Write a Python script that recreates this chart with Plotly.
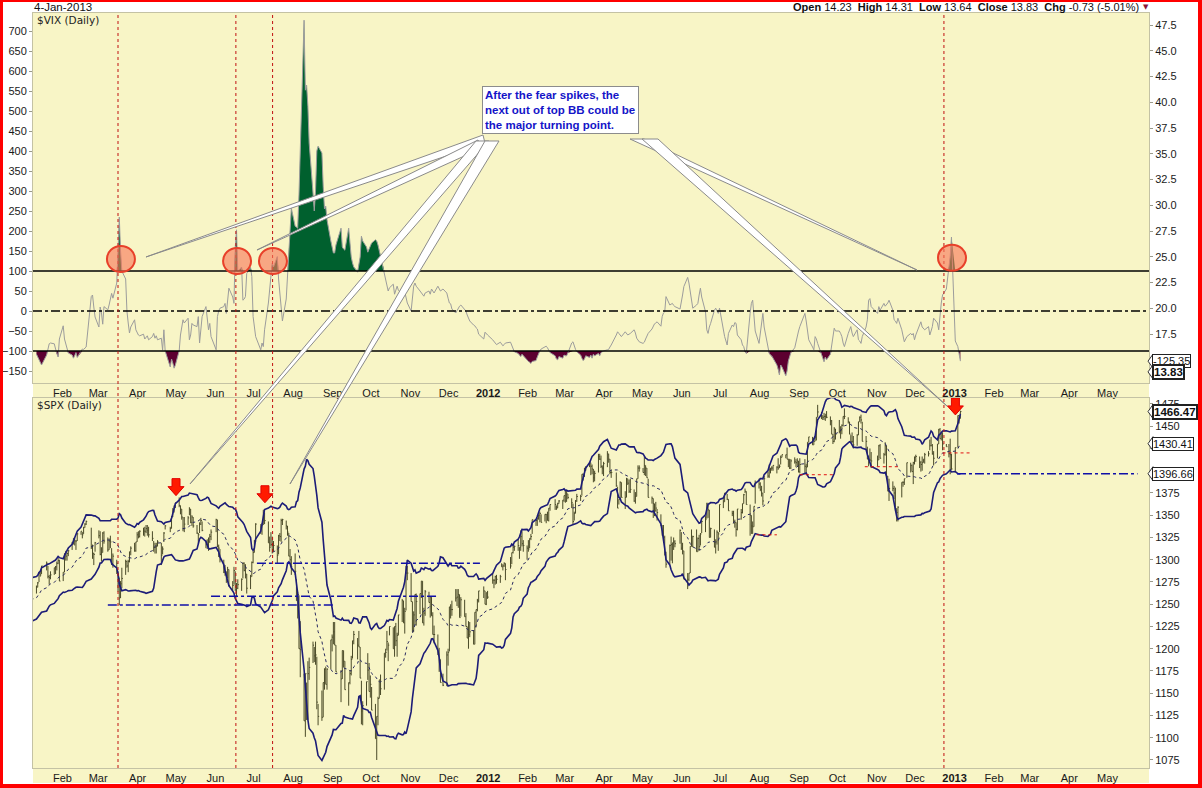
import plotly.graph_objects as go
import pandas as pd

W, H = 1202, 788
def fx(p): return p / W
def fy(p): return 1 - p / H

BG = "#f8f5c6"
market_holidays = ["2010-12-24", "2011-01-17", "2011-02-21", "2011-04-22", "2011-05-30", "2011-07-04",
                   "2011-09-05", "2011-11-24", "2011-12-26", "2012-01-02", "2012-01-16", "2012-02-20",
                   "2012-04-06", "2012-05-28", "2012-07-04", "2012-09-03", "2012-10-29", "2012-10-30",
                   "2012-11-22", "2012-12-25", "2013-01-01"]

# ---- $SPX daily closes (9 Dec 2010 .. 4 Jan 2013; December 2010 only feeds the bands) ----
spx_close = [
    1233, 1240, 1240, 1241, 1236, 1243, 1244, 1247, 1254, 1258, 1257, 1258, 1259, 1260, 1257, 1258,
    1272, 1270, 1276, 1273, 1272, 1269, 1274, 1285, 1283, 1293, 1296, 1281, 1280, 1283, 1291, 1292, 1296, 1299, 1276, 1286,
    1307, 1304, 1307, 1310, 1319, 1324, 1321, 1321, 1329, 1332, 1328, 1336, 1340, 1343, 1315, 1307, 1306, 1319, 1327,
    1306, 1308, 1330, 1321, 1311, 1321, 1320, 1295, 1304, 1296, 1281, 1257, 1273, 1279, 1298, 1293, 1298, 1309, 1313, 1310, 1320, 1328, 1326,
    1332, 1332, 1332, 1335, 1333, 1328, 1324, 1314, 1314, 1315, 1320, 1305, 1312, 1330, 1338, 1335, 1348, 1356, 1360, 1364,
    1361, 1357, 1348, 1335, 1340, 1347, 1357, 1342, 1348, 1338, 1330, 1328, 1340, 1344, 1333, 1317, 1316, 1320, 1326, 1331, 1345,
    1315, 1313, 1300, 1286, 1284, 1280, 1289, 1271, 1271, 1288, 1266, 1268, 1272, 1278, 1296, 1288, 1284, 1268, 1281, 1297, 1308, 1321,
    1340, 1337, 1339, 1353, 1344, 1319, 1314, 1317, 1309, 1316, 1305, 1327, 1326, 1344, 1345, 1338, 1331, 1304, 1300, 1292,
    1287, 1254, 1261, 1200, 1199, 1119, 1172, 1121, 1172, 1179, 1204, 1192, 1193, 1140, 1124, 1123, 1162, 1177, 1160, 1177, 1210, 1213, 1219,
    1204, 1174, 1166, 1198, 1186, 1154, 1162, 1172, 1188, 1209, 1216, 1204, 1202, 1167, 1130, 1136, 1163, 1176, 1152, 1160, 1131,
    1099, 1124, 1144, 1165, 1155, 1195, 1196, 1208, 1204, 1225, 1200, 1225, 1209, 1215, 1238, 1254, 1229, 1242, 1285, 1285, 1253,
    1219, 1238, 1261, 1253, 1262, 1276, 1229, 1240, 1264, 1252, 1258, 1237, 1216, 1216, 1193, 1188, 1162, 1159, 1193, 1196, 1247,
    1244, 1244, 1257, 1258, 1261, 1235, 1255, 1236, 1225, 1212, 1216, 1219, 1205, 1241, 1244, 1254, 1265, 1265, 1250, 1263, 1258,
    1277, 1277, 1281, 1278, 1281, 1292, 1293, 1296, 1289, 1293, 1308, 1314, 1315, 1316, 1314, 1326, 1318, 1316, 1313, 1312,
    1324, 1326, 1345, 1344, 1347, 1350, 1352, 1342, 1351, 1351, 1344, 1358, 1362, 1362, 1358, 1363, 1366, 1367, 1372, 1366,
    1374, 1370, 1364, 1343, 1352, 1366, 1371, 1371, 1396, 1395, 1403, 1404, 1409, 1405, 1402, 1392, 1397, 1416, 1413, 1405, 1403, 1408,
    1419, 1413, 1398, 1398, 1383, 1358, 1368, 1387, 1370, 1370, 1391, 1386, 1377, 1379, 1366, 1371, 1391, 1403, 1403, 1398,
    1406, 1403, 1392, 1370, 1369, 1363, 1355, 1358, 1353, 1338, 1330, 1325, 1305, 1295, 1316, 1317, 1319, 1320, 1318, 1333, 1313, 1310,
    1278, 1278, 1285, 1315, 1315, 1326, 1309, 1324, 1315, 1329, 1343, 1345, 1358, 1356, 1325, 1335, 1314, 1320, 1331, 1329, 1362,
    1365, 1375, 1368, 1355, 1352, 1341, 1342, 1334, 1357, 1353, 1363, 1373, 1377, 1362, 1350, 1338, 1337, 1360, 1386, 1385, 1379,
    1375, 1366, 1391, 1394, 1401, 1403, 1403, 1406, 1404, 1403, 1405, 1415, 1418, 1418, 1413, 1413, 1403, 1411, 1410, 1409, 1411, 1399, 1407,
    1405, 1404, 1432, 1438, 1429, 1433, 1437, 1460, 1466, 1462, 1460, 1461, 1461, 1460, 1456, 1441, 1433, 1447, 1441,
    1444, 1445, 1451, 1461, 1461, 1455, 1441, 1433, 1433, 1429, 1440, 1455, 1460, 1457, 1433, 1433, 1413, 1409, 1412, 1411, 1412,
    1428, 1414, 1418, 1428, 1394, 1377, 1380, 1380, 1375, 1355, 1353, 1359, 1387, 1387, 1391, 1409, 1406, 1399, 1409, 1415, 1416,
    1409, 1407, 1409, 1413, 1418, 1419, 1428, 1428, 1419, 1414, 1430, 1446, 1436, 1443, 1430, 1427, 1419, 1418, 1402, 1426,
    1462, 1459, 1466.47,
]

# daily high above close (points), from 10 Jan 2011
spx_high_ext = [
    2, 1, 1, 4, 0, 2, 12, 3, 4, 0, 1, 2, 3, 24, 0,
    0, 6, 1, 1, 1, 0, 3, 1, 1, 0, 3, 1, 1, 1, 21, 10, 2, 1, 6,
    26, 6, 1, 11, 14, 3, 7, 18, 3, 4, 6, 23, 3, 12, 2, 6, 2, 0, 2, 9, 0, 3, 6,
    1, 4, 5, 4, 6, 9, 8, 7, 5, 4, 2, 14, 3, 1, 1, 2, 1, 2, 1, 0,
    9, 4, 9, 13, 8, 2, 2, 15, 2, 10, 9, 2, 2, 3, 10, 5, 7, 5, 3, 3, 1,
    30, 4, 12, 14, 10, 7, 3, 18, 5, 4, 21, 6, 6, 1, 1, 9, 11, 16, 2, 1, 2, 1,
    1, 3, 2, 3, 9, 24, 12, 14, 17, 5, 11, 1, 4, 2, 1, 6, 7, 26, 12, 12,
    20, 24, 3, 60, 32, 53, 0, 41, 14, 11, 4, 10, 15, 51, 14, 30, 0, 1, 20, 1, 0, 3, 11,
    26, 30, 10, 0, 12, 32, 0, 4, 4, 0, 4, 8, 18, 35, 34, 5, 0, 19, 32, 10, 26,
    39, 0, 2, 0, 16, 0, 4, 12, 3, 0, 24, 0, 20, 3, 0, 2, 25, 4, 8, 8, 32,
    34, 4, 0, 9, 0, 0, 47, 6, 2, 12, 0, 21, 25, 10, 23, 13, 26, 13, 4, 4, 0,
    6, 10, 10, 9, 6, 26, 3, 19, 15, 13, 15, 11, 16, 0, 0, 2, 0, 5, 15, 0, 7,
    7, 1, 1, 5, 2, 4, 2, 1, 7, 10, 0, 2, 1, 7, 0, 7, 14, 6, 3, 10,
    0, 3, 0, 0, 0, 1, 2, 9, 0, 0, 10, 0, 0, 6, 3, 1, 1, 0, 0, 12,
    4, 4, 5, 20, 2, 1, 3, 2, 0, 2, 0, 1, 1, 4, 5, 10, 3, 3, 6, 12, 3, 2,
    3, 6, 15, 3, 15, 24, 0, 1, 17, 7, 1, 5, 13, 12, 13, 5, 0, 3, 3, 5,
    10, 3, 11, 21, 2, 6, 8, 7, 4, 13, 9, 14, 22, 14, 1, 9, 0, 5, 4, 1, 18, 9,
    32, 7, 0, 0, 19, 1, 25, 1, 13, 1, 1, 4, 6, 8, 31, 1, 20, 3, 2, 2, 0,
    3, 0, 6, 13, 3, 14, 3, 8, 0, 4, 0, 1, 3, 15, 12, 12, 6, 0, 3, 6, 8,
    8, 9, 3, 5, 6, 0, 2, 0, 1, 11, 2, 2, 0, 0, 13, 0, 10, 2, 5, 4, 3, 12, 7,
    8, 4, 0, 0, 9, 4, 2, 0, 8, 4, 2, 4, 3, 7, 5, 16, 8, 2, 6,
    13, 5, 1, 0, 9, 5, 14, 7, 10, 10, 1, 0, 1, 6, 22, 6, 14, 8, 13, 10, 5,
    1, 16, 2, 4, 34, 17, 11, 8, 8, 26, 5, 1, 0, 1, 0, 0, 3, 8, 1, 1, 2,
    7, 4, 7, 0, 2, 3, 7, 10, 11, 8, 0, 1, 12, 0, 13, 3, 11, 18, 17, 0,
    0, 3, 1,
]
# daily low below close (points), from 10 Jan 2011
spx_low_ext = [
    7, 5, 10, 2, 9, 8, 2, 8, 5, 8, 8, 8, 4, 0, 10,
    21, 5, 8, 6, 8, 7, 5, 10, 8, 4, 4, 7, 4, 4, 3, 6, 12, 10, 3,
    1, 10, 22, 3, 2, 10, 7, 1, 13, 12, 17, 8, 16, 11, 15, 2, 12, 12, 8, 1, 11, 8, 2,
    7, 5, 6, 5, 6, 3, 3, 5, 7, 8, 5, 11, 6, 10, 4, 4, 13, 8, 7, 6,
    2, 6, 3, 3, 9, 8, 7, 1, 10, 2, 1, 10, 10, 5, 1, 4, 4, 10, 7, 9, 14,
    1, 10, 3, 1, 2, 6, 10, 1, 5, 16, 1, 10, 5, 13, 17, 1, 5, 6, 14, 16, 12, 13,
    20, 8, 11, 14, 4, 0, 5, 2, 2, 7, 9, 21, 5, 24, 6, 4, 4, 0, 5, 9,
    4, 0, 27, 0, 31, 0, 71, 1, 51, 14, 20, 7, 11, 8, 10, 4, 39, 23, 0, 23, 33, 16, 14,
    0, 0, 26, 32, 7, 0, 26, 12, 18, 20, 11, 16, 0, 0, 15, 22, 27, 11, 0, 15, 0,
    0, 49, 30, 21, 7, 41, 6, 10, 18, 10, 0, 34, 6, 24, 23, 24, 0, 25, 42, 8, 0,
    0, 19, 35, 27, 23, 19, 0, 14, 27, 0, 23, 0, 0, 10, 0, 14, 0, 1, 35, 15, 50,
    10, 7, 4, 10, 15, 0, 19, 0, 0, 0, 16, 6, 0, 36, 20, 12, 13, 8, 0, 14, 2,
    4, 9, 9, 5, 7, 0, 5, 4, 12, 3, 13, 7, 5, 6, 13, 16, 3, 7, 13, 3,
    11, 4, 16, 6, 9, 5, 10, 0, 8, 10, 0, 15, 7, 6, 2, 5, 3, 10, 7, 2,
    9, 2, 6, 3, 8, 14, 6, 5, 24, 6, 10, 4, 5, 10, 6, 5, 9, 18, 1, 2, 7, 14,
    15, 4, 2, 6, 1, 0, 6, 20, 0, 13, 21, 2, 2, 4, 1, 8, 20, 12, 4, 0,
    11, 9, 0, 0, 6, 16, 6, 4, 9, 0, 3, 0, 0, 4, 21, 18, 23, 9, 4, 15, 2, 4,
    0, 11, 9, 30, 0, 12, 0, 15, 5, 13, 13, 14, 12, 9, 0, 10, 0, 13, 14, 19, 31,
    7, 10, 1, 0, 3, 0, 6, 8, 24, 8, 11, 10, 2, 0, 23, 9, 8, 23, 23, 5, 2,
    4, 5, 16, 2, 9, 6, 3, 6, 7, 2, 2, 8, 3, 4, 0, 9, 1, 9, 2, 5, 6, 1, 10,
    9, 8, 28, 6, 0, 4, 4, 26, 6, 4, 3, 4, 5, 1, 5, 0, 3, 15, 6,
    2, 9, 10, 11, 3, 2, 0, 2, 2, 4, 12, 15, 5, 4, 0, 10, 0, 4, 1, 8, 7,
    16, 0, 10, 11, 0, 0, 14, 3, 7, 0, 10, 16, 17, 5, 7, 17, 8, 0, 24, 8, 6,
    6, 8, 9, 4, 10, 3, 5, 0, 1, 8, 16, 16, 0, 9, 7, 0, 4, 22, 1, 28,
    36, 6, 8,
]

# ---- $VIX position inside its Bollinger Bands (+100 top band, -100 bottom band), from 10 Jan 2011 ----
vix_bb_pos = [
    -108, -115, -125, -132, -135, -110, -97, -82, -80, -82, -95, -108, -115, -70, -37,
    -70, -80, -95, -105, -110, -118, -112, -104, -116, -102, -95, -96, -94, -90, 36, 40, 10, -15, -40,
    10, -5, -33, 11, 3, 15, 27, 44, 32, 70, 150, 235, 150, 100, 80, 0, -30, -55, -40, -22, -47, -55, -60,
    -62, -58, -70, -66, -62, -72, -64, -56, -68, -62, -72, -68, -98, -47, -100, -140, -120, -130, -143, -135,
    -100, -60, -35, -22, -30, -18, -72, -60, -31, -35, -39, -14, -80, -50, -14, 11, -20, -47, -31, -64, -97,
    -14, 0, 7, 11, 19, -6, 19, 57, 35, 19, 160, 203, 98, 110, 27, 30, 36, 94, 109, 86, -14, -40,
    -64, -97, -80, -89, -47, 20, 61, 83, 120, 110, 136, 80, 45, 10, -25, 30, 100, 150, 200, 257,
    212, 210, 207, 290, 400, 727, 552, 565, 512, 420, 295, 250, 300, 400, 412, 395, 312, 255, 262, 228, 175, 160, 145,
    145, 165, 207, 160, 155, 152, 207, 160, 135, 120, 110, 97, 115, 135, 187, 175, 160, 147, 155, 165, 170,
    178, 175, 165, 150, 140, 90, 77, 60, 50, 58, 67, 42, 50, 62, 52, 42, 62, 50, 37, 20, 0,
    30, 62, 70, 62, 50, 45, 40, 37, 45, 50, 42, 55, 50, 45, 62, 55, 50, 55, 45, 32, 20,
    18, 5, -5, 2, 8, 12, 15, 5, 0, -10, -20, -25, -35, -37, -42, -45, -58, -70, -53, -58, -60,
    -72, -76, -80, -84, -78, -82, -87, -84, -80, -78, -85, -92, -102, -106, -110, -114, -108, -112, -122, -126,
    -128, -131, -126, -124, -115, -106, -100, -95, -89, -88, -92, -98, -104, -112, -120, -122, -114, -118, -110, -112,
    -112, -105, -80, -77, -89, -96, -102, -110, -118, -124, -120, -112, -116, -110, -118, -108, -112, -106, -112, -104, -102, -100,
    -97, -96, -90, -85, -60, -52, -56, -62, -64, -52, -58, -60, -58, -56, -47, -55, -68, -72, -77, -81,
    -78, -70, -64, -56, -45, -39, -32, -30, -27, -38, -14, -5, -2, 36, 15, 17, 19, 14, 11, 5, 20, 40,
    61, 84, 70, 52, 30, 7, 15, 19, 40, 57, 35, -2, -47, -56, -40, -31, 2, 7, 0, -6, 7,
    -40, -64, -85, -56, -35, -39, -29, -31, -60, -72, -85, -89, -102, -106, -6, 19, 27, -5, -50, -81, -50,
    -30, -6, -40, -97, -106, -110, -112, -118, -135, -145, -160, -135, -140, -162, -150, -125, -110, -104, -92, -75, -64, -50, -39,
    -6, -25, -50, -72, -90, -97, -64, -70, -81, -106, -118, -127, -115, -122, -108, -89, -60, -43, -50,
    -50, -56, -64, -80, -89, -56, -45, -39, -55, -64, -47, -72, -75, -81, -64, -40, -22, 27, 31, 11, -6,
    11, 2, 19, 12, 15, 20, 27, 2, -22, -25, -31, -18, -47, -64, -77, -64, -56, -60, -56, -72, -60,
    -35, -27, -40, -44, -47, -39, -60, -50, -39, -18, -30, -47, 0, 20, 40, 55, 110, 136, 185, -75,
    -89, -105, -125.35,
]
vix_last = 13.83

tick_text = ["Feb", "Mar", "Apr", "May", "Jun", "Jul", "Aug", "Sep", "Oct", "Nov", "Dec",
             "<b>2012</b>", "Feb", "Mar", "Apr", "May", "Jun", "Jul", "Aug", "Sep", "Oct", "Nov", "Dec",
             "<b>2013</b>", "Feb", "Mar", "Apr", "May"]
tick_dates = pd.date_range("2011-02-01", "2013-05-01", freq="MS").strftime("%Y-%m-%d").tolist()
vix_pos_ticks = list(range(-150, 701, 50))
vix_price_ticks = [17.5, 20.0, 22.5, 25.0, 27.5, 30.0, 32.5, 35.0, 37.5, 40.0, 42.5, 45.0, 47.5]
spx_ticks = list(range(1075, 1476, 25))
# 1400 and 1425 sit under the price tags in the original, so their labels are left blank
spx_tick_text = ["" if v in (1400, 1425) else str(v) for v in spx_ticks]

# chart marks drawn by the author
signal_dates = ["2011-03-15 00:00", "2011-06-15 12:00", "2011-07-14 07:00", "2012-12-22 02:00"]
circle_pts = [("2011-03-17 07:00", 130), ("2011-06-16 10:00", 125), ("2011-07-14 14:00", 125), ("2012-12-28 10:00", 133)]
arrow_pts = [("2011-04-29 12:00", 1372), ("2011-07-08 07:00", 1364), ("2012-12-31 02:00", 1462.7)]
support_lines = [("2011-03-07", "2011-08-30 17:00", 1249), ("2011-05-27", "2011-11-20", 1259),
                 ("2011-07-02", "2011-12-24", 1296), ("2013-01-01 08:00", "2013-05-23", 1396.66)]
red_levels = [("2012-07-28", "2012-08-13", 1328), ("2012-08-31", "2012-09-26", 1395.5),
              ("2012-10-21", "2012-11-17", 1404.5), ("2012-12-21", "2013-01-13", 1420)]

# ---------------- derived series ----------------
days = pd.bdate_range("2010-12-09", "2013-01-04")
days = days[~days.isin(pd.to_datetime(market_holidays))]
n = min(len(days), len(spx_close))
days = days[:n]
close = pd.Series(spx_close[:n], dtype=float)
mid = close.rolling(20).mean()
sd = close.rolling(20).std(ddof=0)
upper = mid + 2 * sd
lower = mid - 2 * sd
day_str = [d.strftime("%Y-%m-%d") for d in days]

vis = int((days < pd.Timestamp("2011-01-10")).sum())
bar_days = days[vis:]
bx, by, tx, ty = [], [], [], []
for d, c, u, l in zip(bar_days, spx_close[vis:n], spx_high_ext, spx_low_ext):
    ds = d.strftime("%Y-%m-%d")
    bx += [ds, ds, None]
    by += [c - l, c + u, None]
    tx += [ds, (d + pd.Timedelta(hours=20)).strftime("%Y-%m-%d %H:%M"), None]
    ty += [c, c, None]

m = min(len(bar_days), len(vix_bb_pos))
vx = [d.strftime("%Y-%m-%d") for d in bar_days[:m]]
vv = vix_bb_pos[:m]
above = [max(v, 100) for v in vv]
below = [min(v, -100) for v in vv]

fig = go.Figure()
fig.add_trace(go.Scatter(x=vx, y=[100] * m, mode="lines", line=dict(width=0), hoverinfo="skip", xaxis="x", yaxis="y"))
fig.add_trace(go.Scatter(x=vx, y=above, mode="lines", line=dict(width=0), fill="tonexty", fillcolor="#00602e",
                         hoverinfo="skip", xaxis="x", yaxis="y"))
fig.add_trace(go.Scatter(x=vx, y=[-100] * m, mode="lines", line=dict(width=0), hoverinfo="skip", xaxis="x", yaxis="y"))
fig.add_trace(go.Scatter(x=vx, y=below, mode="lines", line=dict(width=0), fill="tonexty", fillcolor="#5c0030",
                         hoverinfo="skip", xaxis="x", yaxis="y"))
fig.add_trace(go.Scatter(x=vx, y=vv, mode="lines", line=dict(color="#9c9c9c", width=1), xaxis="x", yaxis="y",
                         name="VIX %BB"))
fig.add_trace(go.Scatter(x=[vx[-1]], y=[vix_last], mode="markers", marker=dict(opacity=0), xaxis="x", yaxis="y2",
                         hoverinfo="skip"))

fig.add_trace(go.Scatter(x=bx, y=by, mode="lines", line=dict(color="#4a4a28", width=1), xaxis="x2", yaxis="y3",
                         hoverinfo="skip", connectgaps=False))
fig.add_trace(go.Scatter(x=tx, y=ty, mode="lines", line=dict(color="#4a4a28", width=1), xaxis="x2", yaxis="y3",
                         hoverinfo="skip", connectgaps=False))
fig.add_trace(go.Scatter(x=day_str, y=upper, mode="lines", line=dict(color="#1c1c78", width=1.6), xaxis="x2", yaxis="y3"))
fig.add_trace(go.Scatter(x=day_str, y=lower, mode="lines", line=dict(color="#1c1c78", width=1.6), xaxis="x2", yaxis="y3"))
fig.add_trace(go.Scatter(x=day_str, y=mid, mode="lines", line=dict(color="#2a2a60", width=1, dash="dot"), xaxis="x2", yaxis="y3"))

# ---------------- shapes ----------------
shapes = [dict(type="rect", xref="paper", yref="paper", x0=fx(33), x1=fx(1149), y0=fy(783), y1=fy(13),
               fillcolor=BG, line=dict(width=0), layer="below")]
for lv, ds in [(100, "solid"), (0, "dashdot"), (-100, "solid")]:
    shapes.append(dict(type="line", xref="paper", yref="y", x0=fx(33), x1=fx(1149), y0=lv, y1=lv,
                       line=dict(color="#000000", width=1.3, dash=ds)))
for d in signal_dates:
    shapes.append(dict(type="line", xref="x", yref="paper", x0=d, x1=d, y0=fy(768), y1=fy(13),
                       line=dict(color="#c01010", width=1, dash="dot")))
for a, b, v in support_lines:
    shapes.append(dict(type="line", xref="x2", yref="y3", x0=a, x1=b, y0=v, y1=v,
                       line=dict(color="#1010a8", width=1.5, dash="dashdot")))
for a, b, v in red_levels:
    shapes.append(dict(type="line", xref="x2", yref="y3", x0=a, x1=b, y0=v, y1=v,
                       line=dict(color="#e01010", width=1, dash="dot")))
for d, v in circle_pts:
    shapes.append(dict(type="circle", xref="x", yref="y", xsizemode="pixel", ysizemode="pixel",
                       xanchor=d, yanchor=v, x0=-14, x1=14, y0=-13, y1=13,
                       fillcolor="rgba(248,120,90,0.62)", line=dict(color="#e8402a", width=2)))
for d, v in arrow_pts:
    shapes.append(dict(type="path", xref="x2", yref="y3", xsizemode="pixel", ysizemode="pixel",
                       xanchor=d, yanchor=v, path="M -4,17 L 4,17 L 4,9 L 8,9 L 0,0 L -8,9 L -4,9 Z",
                       fillcolor="#ff1a00", line=dict(color="#e00000", width=1)))
wedges = [((146, 257), (483, 135), (485, 143)), ((257, 250), (478, 140), (482, 148)),
          ((190, 484), (476, 141), (489, 141)), ((290, 484), (485, 141), (499, 141)),
          ((917, 270), (630, 139), (644, 139)), ((947, 406), (642, 139), (658, 139))]
for t, b1, b2 in wedges:
    p = "M {:.5f},{:.5f} L {:.5f},{:.5f} L {:.5f},{:.5f} Z".format(fx(t[0]), fy(t[1]), fx(b1[0]), fy(b1[1]), fx(b2[0]), fy(b2[1]))
    shapes.append(dict(type="path", xref="paper", yref="paper", path=p, fillcolor="#ffffff",
                       line=dict(color="#8a8a8a", width=1)))
for yr, v in [("y", -125.35), ("y2", vix_last), ("y3", 1466.47), ("y3", 1430.41), ("y3", 1396.66)]:
    shapes.append(dict(type="path", xref="paper", yref=yr, xsizemode="pixel", ysizemode="pixel",
                       xanchor=fx(1152), yanchor=v, path="M 1,-7 L -4,0 L 1,7 Z",
                       fillcolor="#ffffff", line=dict(color="#333333", width=1)))
for x0, x1, y0, y1 in [(0, 3, 0, 788), (1198, 1202, 0, 788), (0, 1202, 0, 2), (0, 1202, 784, 788)]:
    shapes.append(dict(type="rect", xref="paper", yref="paper", x0=fx(x0), x1=fx(x1), y0=fy(y1), y1=fy(y0),
                       fillcolor="#ff0000", line=dict(width=0)))

# ---------------- annotations ----------------
F = "Liberation Sans"
ann = [
    dict(text="4-Jan-2013", x=fx(32), y=fy(7), xref="paper", yref="paper", xanchor="left", yanchor="middle",
         showarrow=False, font=dict(family=F, size=11.5, color="#111111")),
    dict(text="<b>Open</b> 14.23  <b>High</b> 14.31  <b>Low</b> 13.64  <b>Close</b> 13.83  <b>Chg</b> -0.73 (-5.01%)",
         x=fx(1141), y=fy(7), xref="paper", yref="paper", xanchor="right", yanchor="middle",
         showarrow=False, font=dict(family=F, size=11, color="#111111")),
    dict(text="▼", x=fx(1146), y=fy(7), xref="paper", yref="paper", xanchor="center", yanchor="middle",
         showarrow=False, font=dict(family="DejaVu Sans", size=7, color="#8a1538")),
    dict(text="$VIX (Daily)", x=fx(35), y=fy(20), xref="paper", yref="paper", xanchor="left", yanchor="middle",
         showarrow=False, font=dict(family="DejaVu Sans", size=10.5, color="#222222")),
    dict(text="$SPX (Daily)", x=fx(35), y=fy(405), xref="paper", yref="paper", xanchor="left", yanchor="middle",
         showarrow=False, font=dict(family="DejaVu Sans", size=10.5, color="#222222")),
    dict(text="<b>After the fear spikes, the<br>next out of top BB could be<br>the major turning point.</b>",
         x=fx(482), y=fy(86), xref="paper", yref="paper", xanchor="left", yanchor="top", align="left",
         showarrow=False, width=151, bgcolor="#ffffff", bordercolor="#8c8c8c", borderwidth=1, borderpad=2,
         font=dict(family=F, size=11.5, color="#1414c8")),
]
for yr, v, txt, bold in [("y", -125.35, "-125.35", False), ("y2", vix_last, "13.83", True),
                         ("y3", 1466.47, "1466.47", True), ("y3", 1430.41, "1430.41", False),
                         ("y3", 1396.66, "1396.66", False)]:
    ann.append(dict(text=("<b>%s</b>" % txt) if bold else txt, x=fx(1152), y=v, xref="paper", yref=yr,
                    xanchor="left", yanchor="middle", showarrow=False, bgcolor="#ffffff",
                    bordercolor="#222222", borderwidth=2 if bold else 1, borderpad=0,
                    font=dict(family=F, size=11.5 if bold else 11, color="#111111")))

tickfont = dict(family=F, size=11, color="#1a1a1a")
xcommon = dict(type="date", range=["2011-01-07 07:00", "2013-06-01"], tickmode="array", tickvals=tick_dates,
               ticktext=tick_text, ticklabelshift=-2, showgrid=False, zeroline=False, showline=True,
               linecolor="#c4c2a4", linewidth=1, mirror=True, ticks="", tickfont=tickfont,
               domain=[fx(33), fx(1149)])
ycommon = dict(showgrid=False, zeroline=False, showline=True, linecolor="#c4c2a4", linewidth=1,
               ticks="outside", ticklen=3, tickcolor="#9a9a8a", tickfont=tickfont, tickmode="array")

fig.update_layout(
    width=W, height=H, autosize=False, margin=dict(l=0, r=0, t=0, b=0),
    paper_bgcolor="#ffffff", plot_bgcolor=BG, showlegend=False,
    xaxis=dict(anchor="y", **xcommon),
    xaxis2=dict(anchor="y3", **xcommon),
    yaxis=dict(domain=[fy(383), fy(13)], range=[-180, 745], tickvals=vix_pos_ticks, side="left", anchor="x", **ycommon),
    yaxis2=dict(overlaying="y", side="right", anchor="x", range=[12.75, 48.67], tickvals=vix_price_ticks,
                tickformat=".1f", **ycommon),
    yaxis3=dict(domain=[fy(768), fy(398)], range=[1066, 1481.7], tickvals=spx_ticks, ticktext=spx_tick_text,
                side="right", anchor="x2", mirror=True, **ycommon),
    shapes=shapes, annotations=ann,
)

fig.write_html("out.html", config={"displayModeBar": False},
               post_script="document.body.style.margin='0px';document.body.style.overflow='hidden';")
